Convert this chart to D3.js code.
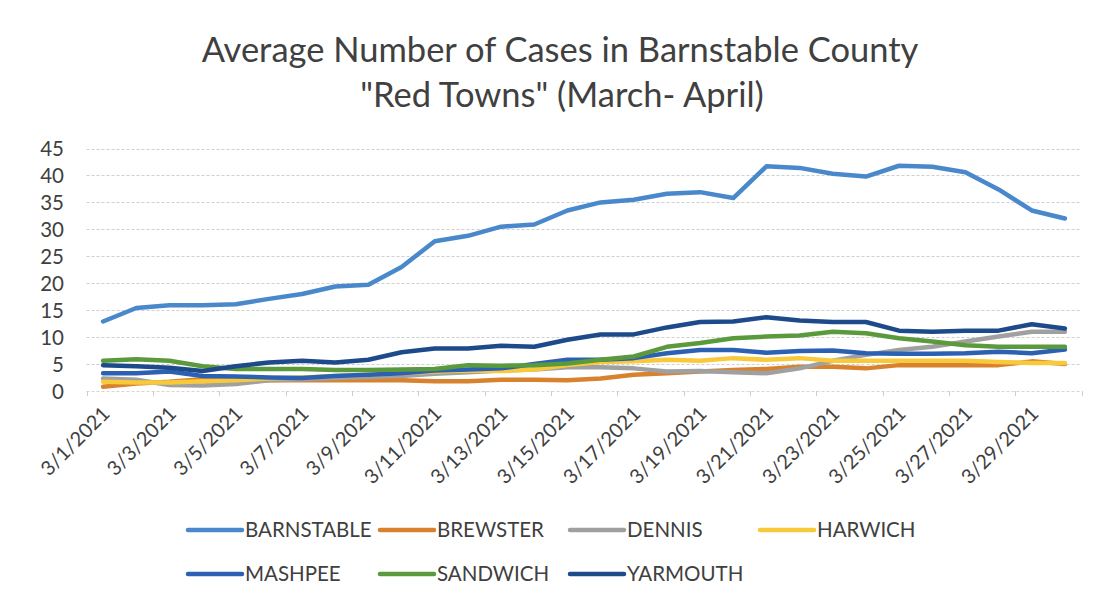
<!DOCTYPE html>
<html>
<head>
<meta charset="utf-8">
<script src="https://cdn.jsdelivr.net/npm/d3@7"></script>
<style>
  html, body { margin: 0; padding: 0; background: #ffffff; }
  svg { display: block; }
  text { font-family: Lato, "Open Sans", "DejaVu Sans", sans-serif; fill: #404040; }
</style>
</head>
<body>
<svg id="chart" width="1100" height="604"></svg>
<script>
// ---- data ----
const titleLines = ["Average Number of Cases in Barnstable County", "\"Red Towns\" (March- April)"];
const dates = ["3/1/2021","3/2/2021","3/3/2021","3/4/2021","3/5/2021","3/6/2021","3/7/2021","3/8/2021","3/9/2021","3/10/2021",
               "3/11/2021","3/12/2021","3/13/2021","3/14/2021","3/15/2021","3/16/2021","3/17/2021","3/18/2021","3/19/2021","3/20/2021",
               "3/21/2021","3/22/2021","3/23/2021","3/24/2021","3/25/2021","3/26/2021","3/27/2021","3/28/2021","3/29/2021","3/30/2021"];
const labelDates = ["3/1/2021","3/3/2021","3/5/2021","3/7/2021","3/9/2021","3/11/2021","3/13/2021","3/15/2021",
                    "3/17/2021","3/19/2021","3/21/2021","3/23/2021","3/25/2021","3/27/2021","3/29/2021"];
const yTicks = [0, 5, 10, 15, 20, 25, 30, 35, 40, 45];
const seriesNames = ["BARNSTABLE","BREWSTER","DENNIS","HARWICH","MASHPEE","SANDWICH","YARMOUTH"];
const barnstable = [12.9,15.4,15.9,15.9,16.1,17.1,18.0,19.4,19.7,23.0,27.8,28.8,30.5,30.9,33.5,35.0,35.5,36.6,36.9,35.8,41.7,41.4,40.3,39.8,41.8,41.6,40.6,37.4,33.5,32.0];
const brewster   = [0.8,1.4,1.7,2.2,2.2,2.0,2.0,2.0,2.0,2.0,1.8,1.8,2.1,2.1,2.0,2.3,3.0,3.3,3.6,3.9,4.1,4.5,4.5,4.2,4.8,4.8,4.8,4.8,5.5,5.0];
const dennis     = [2.3,2.1,1.1,1.0,1.3,2.0,2.2,2.4,2.6,2.8,3.2,3.5,3.8,4.0,4.4,4.4,4.2,3.6,3.7,3.5,3.3,4.2,5.6,6.7,7.6,8.2,9.2,10.1,11.0,11.0];
const harwich    = [1.7,1.6,1.6,1.8,2.0,2.3,2.5,2.8,3.0,3.3,3.6,3.8,3.7,4.0,4.8,5.4,5.5,5.8,5.6,6.1,5.8,6.1,5.6,5.6,5.6,5.6,5.6,5.4,5.2,5.2];
const mashpee    = [3.3,3.3,3.6,2.8,2.7,2.5,2.4,2.8,3.0,3.3,3.8,4.0,4.2,5.0,5.8,5.8,6.1,7.0,7.6,7.6,7.1,7.4,7.5,7.0,6.9,6.9,7.0,7.3,7.0,7.7];
const sandwich   = [5.6,5.9,5.6,4.6,4.1,4.1,4.1,3.9,3.9,4.0,4.1,4.8,4.7,4.8,5.1,5.8,6.4,8.2,8.9,9.8,10.1,10.3,11.0,10.7,9.8,9.2,8.5,8.2,8.2,8.2];
const yarmouth   = [4.8,4.6,4.3,3.7,4.6,5.3,5.6,5.3,5.8,7.2,7.9,7.9,8.4,8.2,9.5,10.5,10.5,11.8,12.8,12.9,13.7,13.1,12.8,12.8,11.2,11.0,11.2,11.2,12.4,11.6];
const seriesValues = [barnstable, brewster, dennis, harwich, mashpee, sandwich, yarmouth];
const seriesColors = ["#4a88cc","#d9822e","#a0a0a0","#f8c93a","#2c60b2","#5a9a3c","#1c4a8a"];

// ---- layout ----
const svg = d3.select("#chart");
const plot = { left: 86.5, right: 1081.5, top: 148.5, bottom: 391 };

const x = d3.scaleBand().domain(dates).range([plot.left, plot.right]).padding(0);
const xc = d => x(d) + x.bandwidth() / 2;
const y = d3.scaleLinear().domain([0, 45]).range([plot.bottom, plot.top]);

// title
const title = svg.append("g");
const t1 = title.append("text").attr("x", 560).attr("y", 62).attr("text-anchor", "middle")
  .style("font-size", "30px").style("fill", "#404040").text(titleLines[0]);
const w1 = t1.node().getComputedTextLength();
const fs = 30 * 717 / w1;
t1.style("font-size", fs + "px");
title.append("text").attr("x", 562).attr("y", 107).attr("text-anchor", "middle")
  .style("font-size", fs + "px").style("fill", "#404040").text(titleLines[1]);

// gridlines
svg.append("g").selectAll("line").data(yTicks.filter(v => v > 0)).join("line")
  .attr("x1", plot.left).attr("x2", plot.right)
  .attr("y1", d => Math.round(y(d)) + 0.5).attr("y2", d => Math.round(y(d)) + 0.5)
  .attr("stroke", "#cfcfcf").attr("stroke-width", 1).attr("stroke-dasharray", "3,2");

// y axis labels
const yAxis = d3.axisLeft(y).tickValues(yTicks).tickSize(0).tickPadding(0);
const gy = svg.append("g").attr("transform", `translate(64,0)`).call(yAxis);
gy.select(".domain").remove();
gy.selectAll("text").style("font-size", "20.5px").style("fill", "#404040")
  .style("font-family", "Lato, 'Open Sans', sans-serif").attr("dy", "0.35em");

// x axis line and ticks
svg.append("line").attr("x1", plot.left).attr("x2", plot.right)
  .attr("y1", plot.bottom + 0.5).attr("y2", plot.bottom + 0.5)
  .attr("stroke", "#d6d6d6").attr("stroke-width", 1).attr("stroke-dasharray", "3,2");
const tickPos = dates.filter((d, i) => i % 2 === 0).map(d => x(d)).concat([plot.right]);
svg.append("g").selectAll("line").data(tickPos).join("line")
  .attr("x1", d => Math.round(d) + 0.5).attr("x2", d => Math.round(d) + 0.5)
  .attr("y1", plot.bottom).attr("y2", plot.bottom + 5)
  .attr("stroke", "#cccccc").attr("stroke-width", 1);

// x labels
svg.append("g").selectAll("text").data(labelDates).join("text")
  .attr("transform", d => `translate(${xc(d) + 3},${plot.bottom + 19}) rotate(-45)`)
  .attr("text-anchor", "end").attr("dy", "0.35em")
  .style("font-size", "20px").style("fill", "#404040").text(d => d);

// lines
const line = d3.line().x((v, i) => xc(dates[i])).y(v => y(v)).curve(d3.curveLinear);
svg.append("g").selectAll("path").data(seriesValues).join("path")
  .attr("d", d => line(d)).attr("fill", "none")
  .attr("stroke", (d, i) => seriesColors[i]).attr("stroke-width", 4.5)
  .attr("stroke-linejoin", "round").attr("stroke-linecap", "round");

// legend
const legCols = [188, 380, 570, 760];
const legRows = [530, 574];
const leg = svg.append("g").selectAll("g").data(seriesNames).join("g")
  .attr("transform", (d, i) => `translate(${legCols[i % 4]},${legRows[Math.floor(i / 4)]})`);
leg.append("line").attr("x1", 0).attr("x2", 54).attr("y1", 0).attr("y2", 0)
  .attr("stroke", (d, i) => seriesColors[i]).attr("stroke-width", 4.5).attr("stroke-linecap", "round");
leg.append("text").attr("x", 57).attr("y", 0).attr("dy", "0.35em")
  .style("font-size", "20.5px").style("fill", "#404040").text(d => d);
</script>
</body>
</html>
